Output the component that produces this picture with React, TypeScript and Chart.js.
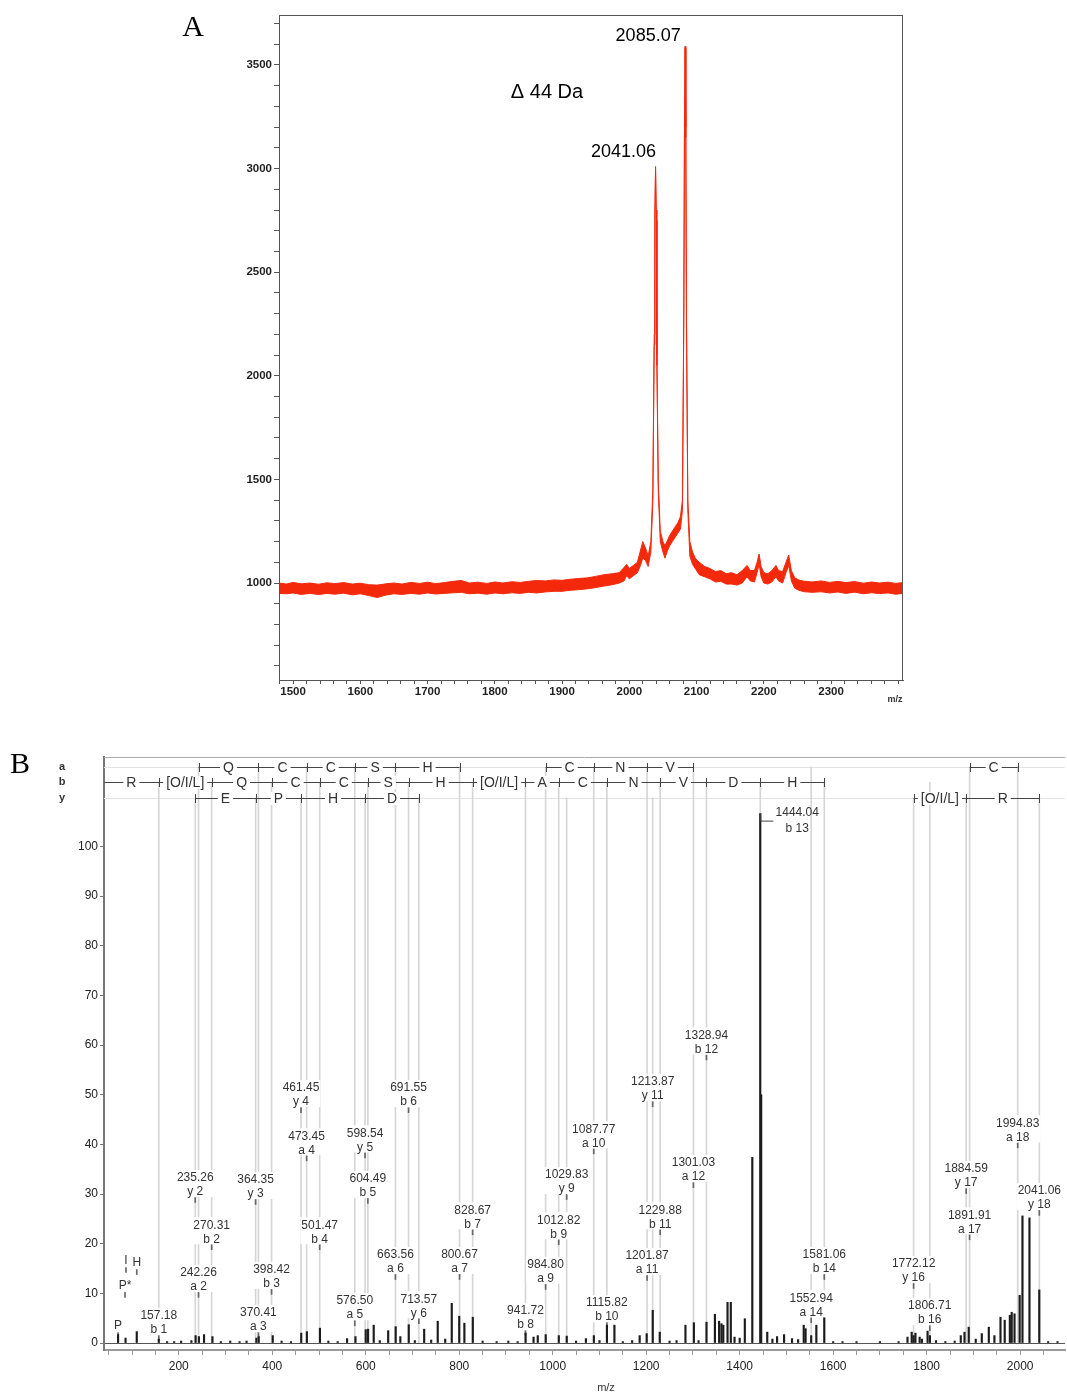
import React, { useEffect, useRef } from 'react';
import { Chart, registerables } from 'chart.js';

Chart.register(...registerables);

// ================= Panel A : MS spectrum (m/z 1480 - 2400) =================
const mzA = [
  1479, 1490, 1500, 1512, 1525, 1538, 1550, 1562, 1575, 1588,
  1600, 1612, 1625, 1638, 1650, 1662, 1675, 1688, 1700, 1712,
  1725, 1738, 1750, 1762, 1775, 1788, 1800, 1812, 1825, 1838,
  1850, 1862, 1875, 1888, 1900, 1912, 1925, 1938, 1950, 1962,
  1975, 1985, 1992, 1996, 2000, 2006, 2012, 2016, 2020, 2024,
  2028, 2032, 2035, 2037, 2038, 2039, 2040, 2041, 2043, 2046,
  2050, 2053, 2056, 2060, 2064, 2068, 2072, 2076, 2079, 2081,
  2082, 2083, 2084, 2085, 2087, 2090, 2094, 2098, 2104, 2112,
  2120, 2128, 2136, 2144, 2152, 2160, 2168, 2175, 2180, 2186,
  2190, 2193, 2196, 2200, 2206, 2212, 2218, 2222, 2228, 2233,
  2237, 2241, 2246, 2252, 2260, 2272, 2285, 2298, 2310, 2322,
  2335, 2348, 2360, 2372, 2385, 2396, 2407,
];
// upper edge of the noisy trace
const upperA = [
  1000, 995, 1003, 996, 1000, 994, 1001, 997, 1002, 995,
  999, 992, 990, 996, 1000, 995, 1003, 998, 1004, 997,
  1002, 1008, 1012, 1000, 1004, 998, 1005, 1000, 1006, 1003,
  1008, 1012, 1010, 1015, 1013, 1018, 1022, 1025, 1032, 1040,
  1045, 1050, 1075, 1090, 1070, 1085, 1100, 1150, 1200, 1170,
  1130, 1200, 1450, 2200, 2800, 3010, 2800, 2100, 1500, 1250,
  1200, 1180, 1200, 1230, 1250, 1270, 1290, 1320, 1400, 2300,
  3200, 3590, 3200, 2300, 1400, 1200, 1150, 1120, 1100, 1080,
  1070, 1055, 1060, 1045, 1050, 1040, 1060, 1085, 1060, 1060,
  1100, 1140, 1080, 1050, 1045, 1060, 1085, 1060, 1055, 1100,
  1135, 1060, 1025, 1015, 1008, 1005, 1010, 1003, 1008, 1002,
  1007, 999, 1005, 1000, 1004, 998, 1002,
];
// lower edge of the noisy trace
const lowerA = [
  950, 948, 952, 945, 950, 944, 950, 946, 951, 943,
  948, 940, 930, 942, 948, 945, 950, 946, 952, 947,
  950, 953, 955, 948, 951, 946, 952, 948, 953, 950,
  955, 952, 957, 960, 960, 965, 968, 972, 978, 985,
  992, 1000, 1010, 1035, 1020, 1035, 1050, 1080, 1120, 1110,
  1080, 1150, 1400, 2150, 2750, 3000, 2750, 2050, 1450, 1200,
  1150, 1120, 1150, 1180, 1200, 1220, 1240, 1260, 1350, 2250,
  3150, 3580, 3150, 2250, 1350, 1130, 1090, 1070, 1040, 1030,
  1020, 1005, 1008, 995, 995, 990, 1000, 1030, 1010, 1005,
  1050, 1090, 1030, 1000, 995, 1005, 1030, 1010, 1000, 1050,
  1085, 1010, 975, 965, 958, 955, 958, 952, 957, 950,
  956, 948, 953, 949, 952, 946, 950,
];
const peakMzA = [2083, 2039];
const peakIntA = [3590, 3010];
const peakTextA = ['2085.07', '2041.06'];
const xLabelsA = [1500, 1600, 1700, 1800, 1900, 2000, 2100, 2200, 2300];
const yLabelsA = [1000, 1500, 2000, 2500, 3000, 3500];

// ================= Panel B : MS/MS spectrum =================
const stickMz = [
  70.1, 86.1, 110.1, 157.2, 175, 190, 205, 227, 236, 243,
  254, 272, 290, 310, 330, 345, 366, 371, 401, 420,
  440, 462, 474, 502, 520, 540, 560, 578, 600, 605,
  617, 630, 648, 664, 674, 692, 705, 725, 740, 754,
  770, 784, 800, 811, 829, 850, 880, 905, 925, 942,
  959, 968, 985, 1013, 1030, 1050, 1071, 1088, 1100, 1116,
  1132, 1150, 1170, 1186, 1201, 1214, 1229, 1250, 1265, 1284,
  1302, 1312, 1329, 1347, 1356, 1361, 1365, 1374, 1381, 1389,
  1400, 1411, 1427, 1444, 1446, 1459, 1470, 1480, 1495, 1512,
  1525, 1537, 1541, 1553, 1564, 1581, 1600, 1620, 1650, 1700,
  1740, 1759, 1768, 1772, 1776, 1785, 1790, 1802, 1807, 1820,
  1840, 1860, 1873, 1881, 1890, 1905, 1918, 1933, 1945, 1958,
  1967, 1978, 1982, 1988, 1999, 2005, 2020, 2041, 2060, 2080,
];
const stickInt = [
  1.7, 1.0, 2.3, 0.8, 0.3, 0.3, 0.4, 0.5, 1.5, 1.3,
  1.7, 1.3, 0.3, 0.4, 0.3, 0.4, 1.0, 1.3, 1.5, 0.4,
  0.3, 2.0, 2.3, 3.0, 0.4, 0.3, 0.9, 1.3, 2.7, 2.8,
  3.6, 0.5, 2.5, 3.3, 1.3, 3.7, 0.5, 2.8, 0.6, 4.4,
  0.8, 8.0, 5.4, 4.0, 5.2, 0.4, 0.3, 0.4, 0.3, 2.0,
  1.2, 1.5, 1.7, 1.5, 1.4, 0.4, 0.9, 1.5, 0.5, 3.6,
  3.6, 0.3, 0.5, 1.5, 1.9, 6.6, 2.2, 0.4, 0.5, 3.6,
  4.1, 0.5, 4.2, 5.8, 4.4, 3.9, 3.6, 8.2, 8.2, 1.2,
  1.0, 4.9, 37.4, 106.6, 50.0, 2.2, 0.8, 1.3, 1.7, 0.9,
  0.7, 3.6, 2.9, 1.5, 3.6, 5.1, 0.3, 0.3, 0.3, 0.3,
  0.3, 1.2, 2.2, 1.5, 2.0, 1.2, 0.8, 2.4, 1.5, 0.5,
  0.3, 0.4, 1.5, 2.2, 3.2, 0.8, 1.9, 3.2, 1.5, 5.2,
  4.6, 5.6, 6.2, 5.9, 9.6, 25.6, 25.2, 10.7, 0.3, 0.3,
];

// annotated fragment ions
const fragMz = [
  157.18, 235.26, 242.26, 270.31, 364.35, 370.41, 398.42, 461.45, 473.45, 501.47,
  576.50, 598.54, 604.49, 663.56, 691.55, 713.57, 800.67, 828.67, 941.72, 984.80,
  1012.82, 1029.83, 1087.77, 1115.82, 1201.87, 1213.87, 1229.88, 1301.03, 1328.94, 1444.04,
  1552.94, 1581.06, 1772.12, 1806.71, 1884.59, 1891.91, 1994.83, 2041.06,
];
const fragIon = [
  'b 1', 'y 2', 'a 2', 'b 2', 'y 3', 'a 3', 'b 3', 'y 4', 'a 4', 'b 4',
  'a 5', 'y 5', 'b 5', 'a 6', 'b 6', 'y 6', 'a 7', 'b 7', 'b 8', 'a 9',
  'b 9', 'y 9', 'a 10', 'b 10', 'a 11', 'y 11', 'b 11', 'a 12', 'b 12', 'b 13',
  'a 14', 'b 14', 'y 16', 'b 16', 'y 17', 'a 17', 'a 18', 'y 18',
];
// height (relative intensity units) at which each annotation sits
const fragLevel = [
  1.0, 28.8, 9.7, 19.3, 28.4, 1.6, 10.3, 46.9, 37.2, 19.3,
  4.0, 37.8, 28.6, 13.3, 46.9, 4.4, 13.3, 22.3, 2.0, 11.3,
  20.3, 29.4, 38.6, 3.6, 13.1, 48.1, 22.3, 31.8, 57.5, 106.6,
  4.6, 13.3, 11.5, 3.0, 30.6, 21.3, 39.8, 26.2,
];
// immonium ions
const immMz = [70.1, 85.0, 87.0, 110.1];
const immText = ['P', 'P*', 'I', 'H'];
const immLevel = [1.6, 9.7, 14.7, 14.3];

// sequence ladders
const ladderAMz = [[242.26, 370.41, 473.45, 576.50, 663.56, 800.67], [984.80, 1087.77, 1201.87, 1301.03], [1891.91, 1994.83]];
const ladderARes = [['Q', 'C', 'C', 'S', 'H'], ['C', 'N', 'V'], ['C']];
const ladderBMz = [[40, 157.18, 270.31, 398.42, 501.47, 604.49, 691.55, 828.67, 941.72, 1012.82, 1115.82, 1229.88, 1328.94, 1444.04, 1581.06]];
const ladderBRes = [['R', '[O/I/L]', 'Q', 'C', 'C', 'S', 'H', '[O/I/L]', 'A', 'C', 'N', 'V', 'D', 'H']];
const ladderYMz = [[235.26, 364.35, 461.45, 598.54, 713.57], [1772.12, 1884.59, 2041.06]];
const ladderYRes = [['E', 'P', 'H', 'D'], ['[O/I/L]', 'R']];

const xLabelsB = [200, 400, 600, 800, 1000, 1200, 1400, 1600, 1800, 2000];
const yLabelsB = [0, 10, 20, 30, 40, 50, 60, 70, 80, 90, 100];

const rowLevel: Record<string, number> = { a: 116.0, b: 112.9, y: 109.8 };

// ================= styling =================
const RED = '#f4290c';
const SANS = '"Liberation Sans", Arial, Helvetica, sans-serif';
const NARROW = '"Liberation Sans Narrow", "Liberation Sans", Arial, sans-serif';
const SERIF = '"Liberation Serif", "Times New Roman", serif';
const PEAK_LABEL_DX = [-37, -32];
const PEAK_LABEL_DY = [-10, -14];

function minorTicks(from: number, to: number, step: number) {
  const out: { value: number }[] = [];
  for (let v = from; v <= to + 1e-9; v += step) out.push({ value: Math.round(v * 1000) / 1000 });
  return out;
}

const panelAPlugin = {
  id: 'panelA',
  afterDatasetsDraw(chart: any) {
    const { ctx, chartArea: ca, scales } = chart;
    const xs = scales.x;
    const ys = scales.y;
    ctx.save();
    ctx.strokeStyle = '#555';
    ctx.lineWidth = 1;
    ctx.strokeRect(ca.left + 0.5, ca.top + 0.5, ca.right - ca.left - 1, ca.bottom - ca.top);
    ctx.fillStyle = '#000';
    ctx.textAlign = 'center';
    ctx.textBaseline = 'middle';
    ctx.font = `30px ${SERIF}`;
    ctx.fillText('A', 193, 28);
    ctx.font = `20px ${SANS}`;
    ctx.fillText('\u0394 44 Da', 547, 92);
    ctx.font = `18px ${SANS}`;
    peakMzA.forEach((m, i) => {
      ctx.fillText(
        peakTextA[i],
        xs.getPixelForValue(m) + PEAK_LABEL_DX[i],
        ys.getPixelForValue(peakIntA[i]) + PEAK_LABEL_DY[i],
      );
    });
    ctx.font = `bold 9px ${NARROW}`;
    ctx.fillStyle = '#333';
    ctx.fillText('m/z', 895, 700);
    ctx.restore();
  },
};

function drawLadder(ctx: any, xs: any, y: number, mzs: number[], res: string[], xmin: number) {
  ctx.strokeStyle = '#444';
  ctx.lineWidth = 1;
  ctx.beginPath();
  const x0 = xs.getPixelForValue(mzs[0]);
  const x1 = xs.getPixelForValue(mzs[mzs.length - 1]);
  ctx.moveTo(x0, y + 0.5);
  ctx.lineTo(x1, y + 0.5);
  mzs.forEach((m) => {
    if (m <= xmin) return;
    const px = Math.round(xs.getPixelForValue(m)) + 0.5;
    ctx.moveTo(px, y - 4);
    ctx.lineTo(px, y + 5);
  });
  ctx.stroke();
  ctx.font = `14px ${SANS}`;
  ctx.textAlign = 'center';
  ctx.textBaseline = 'middle';
  res.forEach((r, i) => {
    const a = xs.getPixelForValue(mzs[i]);
    const b = xs.getPixelForValue(mzs[i + 1]);
    const cx = (a + b) / 2;
    const w = ctx.measureText(r).width + 6;
    ctx.fillStyle = '#fff';
    ctx.fillRect(cx - w / 2, y - 6, w, 13);
    ctx.fillStyle = '#333';
    ctx.fillText(r, cx, y + 1);
  });
}

const panelBPlugin = {
  id: 'panelB',
  beforeDatasetsDraw(chart: any) {
    const { ctx, chartArea: ca, scales } = chart;
    const ys = scales.y;
    ctx.save();
    ctx.strokeStyle = '#e2e2e2';
    ctx.lineWidth = 1;
    ['a', 'y'].forEach((k) => {
      const y = Math.round(ys.getPixelForValue(rowLevel[k])) + 0.5;
      ctx.beginPath();
      ctx.moveTo(ca.left, y);
      ctx.lineTo(ca.right, y);
      ctx.stroke();
    });
    ctx.strokeStyle = '#aaa';
    ctx.beginPath();
    ctx.moveTo(ca.left, ca.top + 0.5);
    ctx.lineTo(ca.right, ca.top + 0.5);
    ctx.stroke();
    ctx.restore();
  },
  afterDatasetsDraw(chart: any) {
    const { ctx, chartArea: ca, scales } = chart;
    const xs = scales.x;
    const ys = scales.y;
    ctx.save();
    ctx.font = `12px ${SANS}`;
    ctx.textAlign = 'center';
    ctx.textBaseline = 'middle';

    // white backgrounds for labels
    ctx.fillStyle = '#fff';
    fragMz.forEach((m, i) => {
      const lv = fragLevel[i];
      if (lv > 100) return;
      const x = xs.getPixelForValue(m);
      const py = ys.getPixelForValue(lv);
      const w = Math.max(ctx.measureText(m.toFixed(2)).width, ctx.measureText(fragIon[i]).width) + 2;
      ctx.fillRect(x - w / 2, py - 30, w, 27);
    });
    immMz.forEach((m, i) => {
      const x = xs.getPixelForValue(m);
      const py = ys.getPixelForValue(immLevel[i]);
      const w = ctx.measureText(immText[i]).width + 2;
      ctx.fillRect(x - w / 2, py - 15, w, 12);
    });

    // label texts
    ctx.fillStyle = '#333';
    fragMz.forEach((m, i) => {
      const lv = fragLevel[i];
      const x = xs.getPixelForValue(m);
      const py = ys.getPixelForValue(lv);
      if (lv > 100) {
        ctx.strokeStyle = '#444';
        ctx.lineWidth = 1;
        ctx.beginPath();
        ctx.moveTo(x + 0.5, py);
        ctx.lineTo(x + 0.5, py + 7.5);
        ctx.lineTo(x + 13, py + 7.5);
        ctx.stroke();
        ctx.fillText(m.toFixed(2), x + 37, py - 1);
        ctx.fillText(fragIon[i], x + 37, py + 15);
        return;
      }
      ctx.fillText(m.toFixed(2), x, py - 22);
      ctx.fillText(fragIon[i], x, py - 8);
    });
    immMz.forEach((m, i) => {
      const x = xs.getPixelForValue(m);
      const py = ys.getPixelForValue(immLevel[i]);
      ctx.fillText(immText[i], x, py - 9);
    });

    // ladders
    const xmin = xs.min;
    ladderAMz.forEach((mz, i) => drawLadder(ctx, xs, Math.round(ys.getPixelForValue(rowLevel.a)), mz, ladderARes[i], xmin));
    ladderBMz.forEach((mz, i) => drawLadder(ctx, xs, Math.round(ys.getPixelForValue(rowLevel.b)), mz, ladderBRes[i], xmin));
    ladderYMz.forEach((mz, i) => drawLadder(ctx, xs, Math.round(ys.getPixelForValue(rowLevel.y)), mz, ladderYRes[i], xmin));

    // row names
    ctx.fillStyle = '#333';
    ctx.font = `bold 11px ${SANS}`;
    ctx.textAlign = 'center';
    ['a', 'b', 'y'].forEach((k) => {
      ctx.fillText(k, ca.left - 42, ys.getPixelForValue(rowLevel[k]));
    });

    // panel letter and axis title
    ctx.fillStyle = '#000';
    ctx.font = `30px ${SERIF}`;
    ctx.fillText('B', 20, 765 - 720);
    ctx.fillStyle = '#333';
    ctx.font = `11px ${SANS}`;
    ctx.fillText('m/z', 606, 1388 - 720);
    ctx.restore();
  },
};

function buildA(canvas: HTMLCanvasElement) {
  return new Chart(canvas, {
    type: 'line',
    data: {
      datasets: [
        {
          data: mzA.map((x, i) => ({ x, y: upperA[i] })),
          borderColor: RED,
          borderWidth: 1,
          pointRadius: 0,
          fill: false,
          tension: 0,
        },
        {
          data: mzA.map((x, i) => ({ x, y: lowerA[i] })),
          borderColor: RED,
          backgroundColor: RED,
          borderWidth: 1,
          pointRadius: 0,
          fill: '-1',
          tension: 0,
        },
      ],
    },
    options: {
      animation: false,
      responsive: false,
      maintainAspectRatio: false,
      devicePixelRatio: 1,
      layout: { padding: { left: 0, right: 164, top: 15, bottom: 0 } },
      plugins: { legend: { display: false }, tooltip: { enabled: false } },
      scales: {
        x: {
          type: 'linear',
          min: 1479,
          max: 2407,
          afterBuildTicks: (s: any) => {
            s.ticks = minorTicks(1480, 2400, 20);
          },
          afterFit: (s: any) => {
            s.height = 40;
          },
          ticks: {
            autoSkip: false,
            maxRotation: 0,
            minRotation: 0,
            padding: 1,
            color: '#222',
            font: { family: NARROW, size: 11.5, weight: 'bold' },
            callback: (v: any) => (xLabelsA.includes(Number(v)) ? String(v) : ''),
          },
          grid: { drawOnChartArea: false, tickLength: 4, color: '#555' },
          border: { color: '#555' },
        },
        y: {
          type: 'linear',
          min: 532,
          max: 3741,
          afterBuildTicks: (s: any) => {
            s.ticks = minorTicks(600, 3700, 100);
          },
          afterFit: (s: any) => {
            s.width = 279;
          },
          ticks: {
            autoSkip: false,
            padding: 2,
            color: '#222',
            font: { family: NARROW, size: 11.5, weight: 'bold' },
            callback: (v: any) => (yLabelsA.includes(Number(v)) ? String(v) : ''),
          },
          grid: { drawOnChartArea: false, tickLength: 5, color: '#555' },
          border: { color: '#555' },
        },
      },
    } as any,
    plugins: [panelAPlugin],
  });
}

function buildB(canvas: HTMLCanvasElement) {
  const greyLines = fragMz.map((m, i) => ({ x: m, y: [0, rowLevel[fragIon[i].charAt(0)]] }));
  const tickMarks = fragMz
    .map((m, i) => ({ m, lv: fragLevel[i] }))
    .filter((d) => d.lv <= 100)
    .map((d) => ({ x: d.m, y: [d.lv - 0.5, d.lv + 0.5] }))
    .concat(immMz.map((m, i) => ({ x: m, y: [immLevel[i] - 0.5, immLevel[i] + 0.5] })));
  return new Chart(canvas, {
    type: 'bar',
    data: {
      datasets: [
        {
          data: greyLines as any,
          backgroundColor: '#d6d6d6',
          barThickness: 1,
          grouped: false,
          order: 3,
        },
        {
          data: tickMarks as any,
          backgroundColor: '#666',
          barThickness: 1,
          grouped: false,
          order: 2,
        },
        {
          data: stickMz.map((x, i) => ({ x, y: stickInt[i] })) as any,
          backgroundColor: '#1c1c1c',
          barThickness: 1.5,
          grouped: false,
          order: 1,
        },
      ],
    },
    options: {
      animation: false,
      responsive: false,
      maintainAspectRatio: false,
      devicePixelRatio: 1,
      layout: { padding: { left: 0, right: 2, top: 37, bottom: 0 } },
      plugins: { legend: { display: false }, tooltip: { enabled: false } },
      scales: {
        x: {
          type: 'linear',
          min: 40,
          max: 2096,
          offset: false,
          afterBuildTicks: (s: any) => {
            s.ticks = minorTicks(50, 2050, 50);
          },
          afterFit: (s: any) => {
            s.height = 45;
          },
          ticks: {
            autoSkip: false,
            maxRotation: 0,
            minRotation: 0,
            padding: 4,
            color: '#222',
            font: { family: SANS, size: 12 },
            callback: (v: any) => (xLabelsB.includes(Number(v)) ? String(v) : ''),
          },
          grid: { drawOnChartArea: false, tickLength: 5, color: '#999', offset: false },
          border: { color: '#999', width: 2 },
        },
        y: {
          type: 'linear',
          min: -1.4,
          max: 118,
          afterBuildTicks: (s: any) => {
            s.ticks = yLabelsB.map((v) => ({ value: v }));
          },
          afterFit: (s: any) => {
            s.width = 104;
          },
          ticks: {
            autoSkip: false,
            padding: 2,
            color: '#222',
            font: { family: SANS, size: 12 },
            callback: (v: any) => String(Math.round(v)),
          },
          grid: {
            drawOnChartArea: true,
            tickLength: 4,
            tickColor: '#777',
            color: (c: any) => (c.tick && c.tick.value === 0 ? '#555' : 'rgba(0,0,0,0)'),
          },
          border: { color: '#777', width: 2 },
        },
      },
    } as any,
    plugins: [panelBPlugin],
  });
}

export default function App() {
  const refA = useRef<HTMLCanvasElement | null>(null);
  const refB = useRef<HTMLCanvasElement | null>(null);
  useEffect(() => {
    const a = buildA(refA.current as HTMLCanvasElement);
    const b = buildB(refB.current as HTMLCanvasElement);
    return () => {
      a.destroy();
      b.destroy();
    };
  }, []);
  return (
    <div style={{ position: 'absolute', left: 0, top: 0, width: 1067, height: 1395, background: '#fff' }}>
      <canvas
        ref={refA}
        width={1067}
        height={720}
        style={{ position: 'absolute', left: 0, top: 0, width: 1067, height: 720, display: 'block' }}
      />
      <canvas
        ref={refB}
        width={1067}
        height={675}
        style={{ position: 'absolute', left: 0, top: 720, width: 1067, height: 675, display: 'block' }}
      />
    </div>
  );
}
